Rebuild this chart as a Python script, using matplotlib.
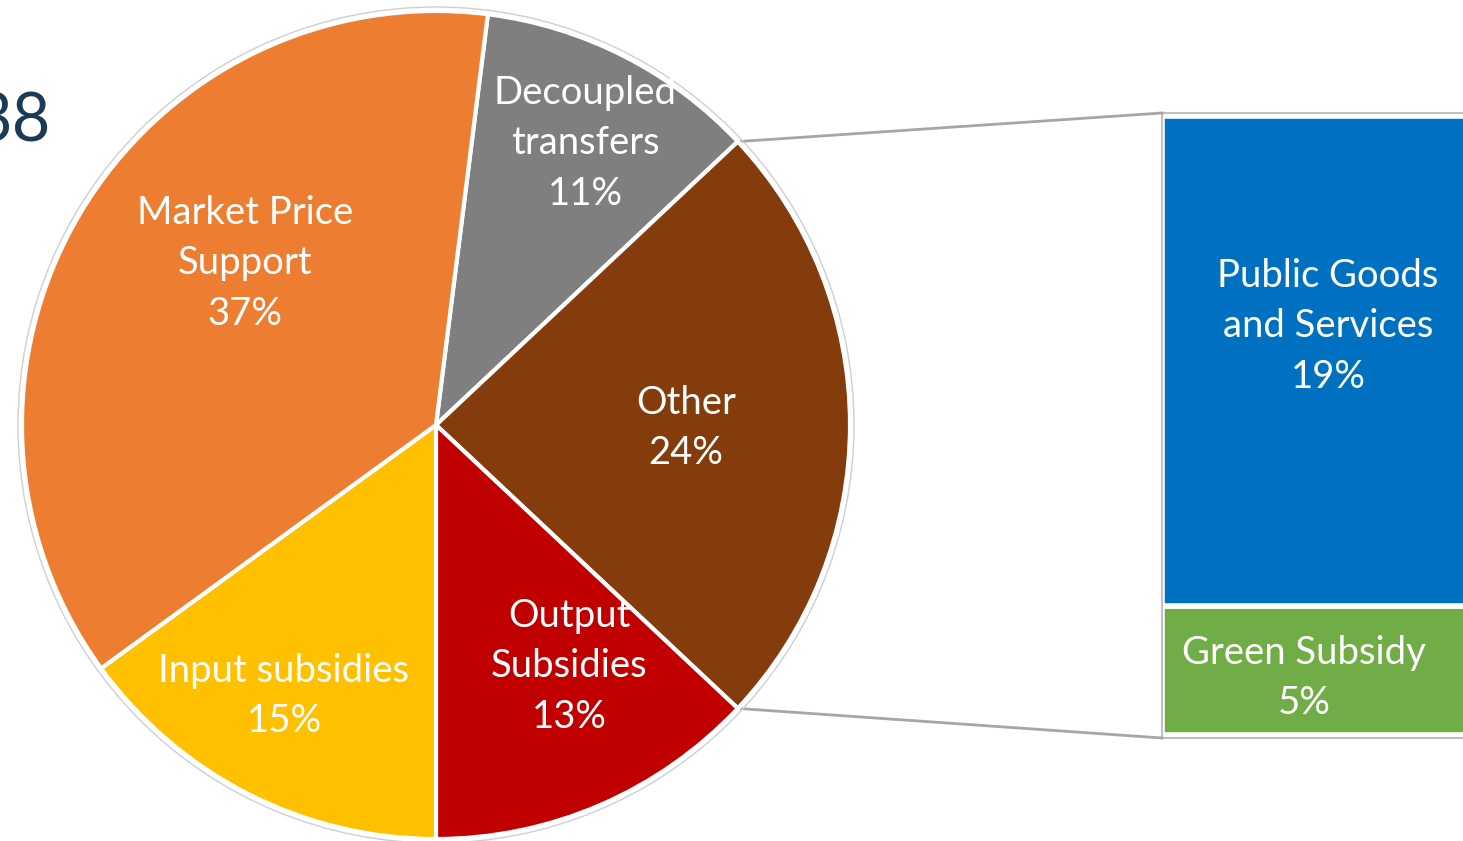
import matplotlib.pyplot as plt
import numpy as np

# pie slices, clockwise from the top
pie_labels = ["Decoupled\ntransfers", "Other", "Output\nSubsidies", "Input subsidies", "Market Price\nSupport"]
pie_values = [11, 24, 13, 15, 37]
pie_colors = ["#7F7F7F", "#843C0C", "#C00000", "#FFC000", "#ED7D31"]

# breakdown of "Other", bottom to top
bar_labels = ["Green Subsidy", "Public Goods\nand Services"]
bar_values = [5, 19]
bar_colors = ["#70AD47", "#0070C0"]

W, H = 1463, 841
FONT = "Lato"
FS = 27.5
LS = 1.5

fig = plt.figure(figsize=(W / 100, H / 100), dpi=100)
ax = fig.add_axes([0, 0, 1, 1])

cx, cy, r = 436, H - 425, 414
other_idx = pie_labels.index("Other")
start = pie_values[other_idx] * 3.6 / 2 + sum(pie_values[:other_idx]) * 3.6

wedges, _ = ax.pie(pie_values, colors=pie_colors, startangle=start, counterclock=False,
                   center=(cx, cy), radius=r,
                   wedgeprops=dict(edgecolor="white", linewidth=3))
ax.add_patch(plt.Circle((cx, cy), r + 4, fill=False, edgecolor="#cfcfcf", linewidth=1))

# label centres in pixels from the top-left
label_xy = [(585, 143), (686, 428), (569, 666), (284, 696), (245, 263)]
for lab, val, (x, y) in zip(pie_labels, pie_values, label_xy):
    ax.text(x, H - y, f"{lab}\n{val}%", ha="center", va="center", color="white",
            fontsize=FS, family=FONT, linespacing=LS)

ax.set_xlim(0, W)
ax.set_ylim(0, H)
ax.set_aspect("auto")
ax.axis("off")

# connector lines from the "Other" slice to the bar
bar_left, bar_top, bar_bot = 1162, H - 113, H - 738
a1 = start - sum(pie_values[:other_idx]) * 3.6
a2 = a1 - pie_values[other_idx] * 3.6
for a, yb in [(a1, bar_top), (a2, bar_bot)]:
    ax.plot([cx + r * np.cos(np.radians(a)), bar_left],
            [cy + r * np.sin(np.radians(a)), yb], color="#a6a6a6", lw=2, zorder=0)

ax.text(50, H - 122, "38", ha="right", va="center", fontsize=48, color="#1b3a55",
        family=FONT)

# stacked bar of "Other" (runs past the right edge, as in the source)
bar_w = 332
bax = fig.add_axes([bar_left / W, bar_bot / H, bar_w / W, (bar_top - bar_bot) / H])
bottom = 0
for lab, val, col in zip(bar_labels, bar_values, bar_colors):
    bax.bar(0, val, bottom=bottom, width=1, color=col, edgecolor="white", linewidth=4)
    bottom += val
bax.set_xlim(-0.5, 0.5)
bax.set_ylim(-0.12, sum(bar_values) + 0.12)
bax.set_xticks([])
bax.set_yticks([])
for s in bax.spines.values():
    s.set_color("#c0c0c0")
    s.set_linewidth(1.5)

bar_label_xy = [(1304, 678), (1328, 326)]
for lab, val, (x, y) in zip(bar_labels, bar_values, bar_label_xy):
    ax.text(x, H - y, f"{lab}\n{val}%", ha="center", va="center", color="white",
            fontsize=FS, family=FONT, linespacing=LS, zorder=5)
ax.set_zorder(bax.get_zorder() + 1)
ax.patch.set_visible(False)

fig.savefig("out.png", dpi=100)
